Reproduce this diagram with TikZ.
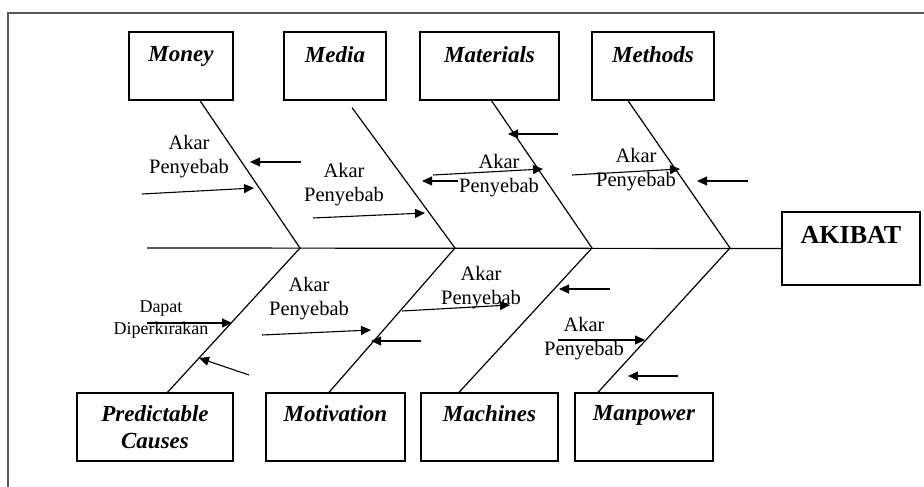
\documentclass[tikz,border=0pt]{standalone}
\usepackage{fontspec}
\setmainfont{Liberation Serif}
\usetikzlibrary{positioning,arrows.meta,calc}
\tikzset{
  catbox/.style={rectangle,draw,line width=1.3pt,minimum height=68pt,inner sep=0pt},
  cattext/.style={font=\fontsize{23}{27}\selectfont\bfseries\itshape,align=center,inner sep=0pt},
  effbox/.style={rectangle,draw,line width=1.3pt,minimum width=138pt,minimum height=73pt,inner sep=0pt},
  efftext/.style={font=\fontsize{26}{30}\selectfont\bfseries,inner sep=0pt},
  rootlabel/.style={font=\fontsize{20.5}{24}\selectfont,align=center,inner sep=0pt},
  bone/.style={line width=1.2pt},
  rootarrow/.style={-{Triangle[length=10pt,width=9pt]},line width=1.1pt},
}

\begin{document}
\begin{tikzpicture}[x=1pt,y=-1pt]
  \useasboundingbox (0,0) rectangle (924,487);
  \draw[line width=1.2pt,black!65] (8,487) |- (924,13);

  % categories, top row
  \node[catbox,minimum width=104pt] (money) at (181,66) {};
  \node[catbox,minimum width=102pt] (media) at (335,66) {};
  \node[catbox,minimum width=139pt] (mater) at (489.5,66) {};
  \node[catbox,minimum width=122pt] (methods) at (653,66) {};
  \node[cattext,below=15pt of money.north] (moneyt) {Money};
  \node[cattext,below=15pt of media.north] (mediat) {Media};
  \node[cattext,below=15pt of mater.north] (matert) {Materials};
  \node[cattext,below=15pt of methods.north] (methodst) {Methods};

  % categories, bottom row
  \node[catbox,minimum width=156pt] (predict) at (155,427) {};
  \node[catbox,minimum width=139pt] (motiv) at (335.5,427) {};
  \node[catbox,minimum width=137pt] (machine) at (489.5,427) {};
  \node[catbox,minimum width=138pt] (manpower) at (644,427) {};
  \node[cattext,below=13pt of predict.north] (predictt) {Predictable\\Causes};
  \node[cattext,below=13pt of motiv.north] (motivt) {Motivation};
  \node[cattext,below=13pt of machine.north] (machinet) {Machines};
  \node[cattext,below=13pt of manpower.north] (manpowert) {Manpower};

  % effect
  \node[effbox] (akibat) at (851,248.5) {};
  \node[efftext,below=15pt of akibat.north] (akibatt) {AKIBAT};

  % spine and bones
  \coordinate (tail) at (147,248);
  \coordinate (j1) at (300,248);
  \coordinate (j2) at (455,248);
  \coordinate (j3) at (592,248);
  \coordinate (j4) at (730,248);
  \draw[bone] (tail) -- (akibat.west);
  \draw[bone] ([xshift=19pt]money.south) -- (j1) -- ([xshift=12.5pt]predict.north);
  \draw[bone] ([xshift=17pt,yshift=-7pt]media.south) -- (j2) -- ([xshift=-6.5pt]motiv.north);
  \draw[bone] ([xshift=2pt]mater.south) -- (j3) -- ([xshift=-30.5pt]machine.north);
  \draw[bone] ([xshift=-25pt]methods.south) -- (j4) -- ([xshift=-46pt]manpower.north);

  % root causes
  \node[rootlabel] (r1) at (189,157) {Akar\\Penyebab};
  \node[rootlabel] (r2) at (344,185) {Akar\\Penyebab};
  \node[rootlabel] (r3) at (499,176) {Akar\\Penyebab};
  \node[rootlabel] (r4) at (636,170) {Akar\\Penyebab};
  \node[rootlabel,font=\fontsize{18}{22}\selectfont] (dapat) at (161,320) {Dapat\\Diperkirakan};
  \node[rootlabel] (r5) at (309,299) {Akar\\Penyebab};
  \node[rootlabel] (r6) at (481,288) {Akar\\Penyebab};
  \node[rootlabel] (r7) at (584,339) {Akar\\Penyebab};

  \foreach \i/\tx/\ty/\hx/\hy in {1/301/162/250/162, 2/142/194/254/188, 3/313/218/425/213,
      4/458/181/422/181, 5/433/175/543/169, 6/558/134/508/134, 7/572/175/680/169,
      8/748/181/697/181, 9/147/323/232/323, 10/249/375/199/358, 11/262/335/371/330,
      12/421/341/371/341, 13/402/311/510/305, 14/610/289/559/289, 15/558/340/645/340,
      16/678/376/628/376}
  {
    \coordinate (s\i) at (\tx,\ty);
    \coordinate (e\i) at (\hx,\hy);
    \draw[rootarrow] (s\i) -- (e\i);
  }
\end{tikzpicture}
\end{document}
